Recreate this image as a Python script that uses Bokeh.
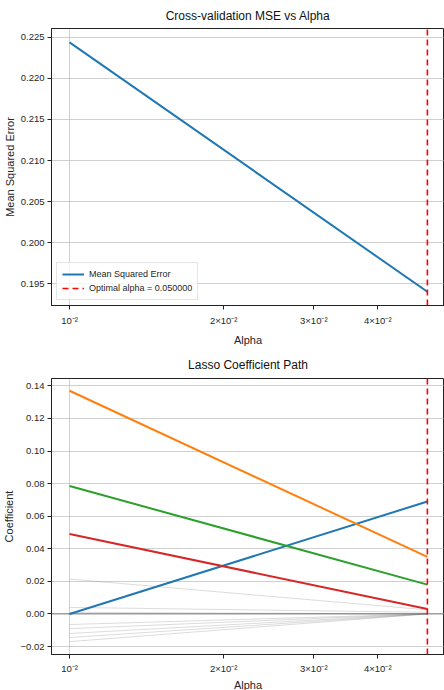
from bokeh.plotting import figure
from bokeh.layouts import column
from bokeh.models import Span, FixedTicker, Legend, LegendItem, Range1d
from bokeh.embed import file_html
from bokeh.resources import INLINE

# ---- data ----
alphas = [0.01, 0.05]
optimal_alpha = 0.05
mse = [0.2244, 0.1940]

coef_blue = [0.000, 0.069]
coef_orange = [0.137, 0.035]
coef_green = [0.0785, 0.018]
coef_red = [0.049, 0.003]
gray_start = [0.0214, 0.004, 0.001, -0.0065, -0.009, -0.012, -0.0145, -0.017]
gray_end = [0.0025, 0.001, 0.0, 0.0, 0.0, 0.0, 0.0, 0.0]

x_ticks = [0.01, 0.02, 0.03, 0.04]
x_tick_labels = {0.01: "10\u207b\u00b2", 0.02: "2\u00d710\u207b\u00b2",
                 0.03: "3\u00d710\u207b\u00b2", 0.04: "4\u00d710\u207b\u00b2"}
mse_ticks = [0.195, 0.200, 0.205, 0.210, 0.215, 0.220, 0.225]
mse_tick_labels = ["0.195", "0.200", "0.205", "0.210", "0.215", "0.220", "0.225"]
coef_ticks = [-0.02, 0.00, 0.02, 0.04, 0.06, 0.08, 0.10, 0.12, 0.14]
coef_tick_labels = ["\u22120.02", "0.00", "0.02", "0.04", "0.06", "0.08", "0.10", "0.12", "0.14"]

mse_range = (0.19233, 0.22609)
coef_range = (-0.0249, 0.1445)
x_range = (0.00922, 0.054)

FONT = "Liberation Sans"
TXT = "#262626"


def style(p, yticks, ylabels, ylabel, lab_standoff, ax_standoff):
    p.title.text_font = FONT
    p.title.text_font_size = "12px"
    p.title.text_font_style = "normal"
    p.title.align = "center"
    p.title.text_color = "#111111"
    p.outline_line_color = "#222222"
    p.outline_line_width = 1
    for ax in (p.xaxis[0], p.yaxis[0]):
        ax.axis_line_color = "#222222"
        ax.major_tick_line_color = "#222222"
        ax.minor_tick_line_color = None
        ax.major_tick_out = 4
        ax.major_tick_in = 0
        ax.major_label_text_font = FONT
        ax.major_label_text_font_size = "9.5px"
        ax.major_label_text_color = TXT
        ax.axis_label_text_font = FONT
        ax.axis_label_text_font_size = "11px"
        ax.axis_label_text_font_style = "normal"
        ax.axis_label_text_color = TXT
    p.xaxis.ticker = FixedTicker(ticks=x_ticks)
    p.xaxis.major_label_overrides = x_tick_labels
    p.xaxis.axis_label = "Alpha"
    p.xaxis.axis_label_standoff = ax_standoff
    p.xaxis.major_label_standoff = lab_standoff
    p.yaxis.ticker = FixedTicker(ticks=yticks)
    p.yaxis.major_label_overrides = dict(zip(yticks, ylabels))
    p.yaxis.axis_label = ylabel
    p.yaxis.axis_label_standoff = 2
    p.yaxis.major_label_standoff = 3
    p.xgrid.ticker = FixedTicker(ticks=[0.01])
    p.ygrid.ticker = FixedTicker(ticks=yticks)
    for g in (p.xgrid[0], p.ygrid[0]):
        g.grid_line_color = "#b0b0b0"
        g.grid_line_alpha = 0.6
        g.grid_line_width = 1


# ---- top plot ----
p1 = figure(frame_width=393, frame_height=277, x_axis_type="log", output_backend="svg",
            toolbar_location=None, title="Cross-validation MSE vs Alpha",
            x_range=Range1d(*x_range), y_range=Range1d(*mse_range),
            min_border_left=0, min_border_right=0, min_border_top=20, min_border_bottom=0)
style(p1, mse_ticks, mse_tick_labels, "Mean Squared Error", 5, 5)
p1.title.standoff = 12
r_mse = p1.line(alphas, mse, line_color="#1f77b4", line_width=2)
r_opt = p1.line([optimal_alpha, optimal_alpha], list(mse_range), line_color="red",
                line_dash="6 4", line_width=1.6)
legend = Legend(items=[LegendItem(label="Mean Squared Error", renderers=[r_mse]),
                       LegendItem(label="Optimal alpha = %f" % optimal_alpha, renderers=[r_opt])],
                location="bottom_left")
legend.label_text_font = FONT
legend.label_text_font_size = "9px"
legend.label_text_color = TXT
legend.glyph_width = 22
legend.glyph_height = 12
legend.label_height = 12
legend.spacing = 2
legend.padding = 5
legend.margin = 5
legend.border_line_color = "#cccccc"
legend.background_fill_alpha = 0.8
p1.add_layout(legend)

# ---- bottom plot ----
p2 = figure(frame_width=393, frame_height=276, x_axis_type="log", output_backend="svg",
            toolbar_location=None, title="Lasso Coefficient Path",
            x_range=Range1d(*x_range), y_range=Range1d(*coef_range),
            min_border_left=0, min_border_right=0, min_border_top=21, min_border_bottom=0)
style(p2, coef_ticks, coef_tick_labels, "Coefficient", 4, 2)
p2.title.standoff = 14
for s, e in zip(gray_start, gray_end):
    p2.line(alphas, [s, e], line_color="gray", line_alpha=0.35, line_width=0.8)
p2.add_layout(Span(location=0, dimension="width", line_color="#555555",
                   line_alpha=0.7, line_width=1))
p2.line(alphas, coef_blue, line_color="#1f77b4", line_width=2)
p2.line(alphas, coef_orange, line_color="#ff7f0e", line_width=2)
p2.line(alphas, coef_green, line_color="#2ca02c", line_width=2)
p2.line(alphas, coef_red, line_color="#d62728", line_width=2)
p2.add_layout(Span(location=optimal_alpha, dimension="height", line_color="red",
                   line_dash="6 4", line_width=1.6))

layout = column(p1, p2, spacing=0)
open("out.html", "w").write(file_html(layout, INLINE))
